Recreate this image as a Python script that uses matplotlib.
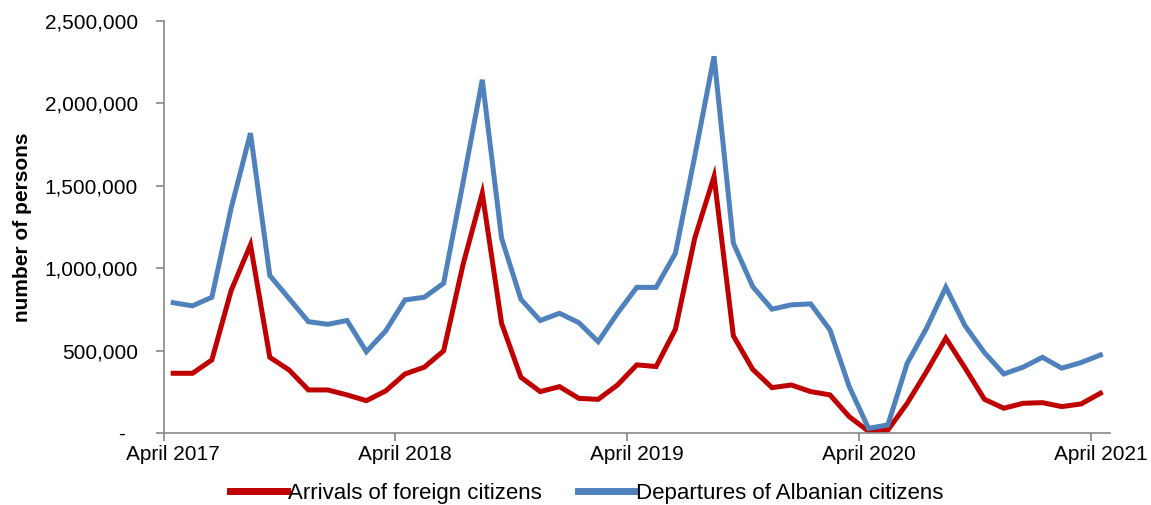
import numpy as np
import matplotlib
matplotlib.use("Agg")
from matplotlib import pyplot as plt
from matplotlib.ticker import FuncFormatter

# monthly values, April 2017 .. April 2021
arrivals = [362000, 362000, 443000, 864000, 1141000, 459000, 382000, 261000, 261000, 231000,
            196000, 255000, 358000, 399000, 498000, 1019000, 1454000, 665000, 338000, 251000,
            281000, 210000, 204000, 291000, 413000, 403000, 629000, 1181000, 1555000, 589000,
            386000, 275000, 291000, 251000, 231000, 99000, 10000, 18000, 180000, 372000,
            575000, 393000, 204000, 150000, 180000, 184000, 160000, 176000, 241000]
departures = [790000, 771000, 823000, 1363000, 1818000, 955000, 815000, 675000, 659000, 682000,
              493000, 619000, 807000, 823000, 908000, 1515000, 2142000, 1181000, 811000, 682000,
              726000, 669000, 554000, 726000, 883000, 883000, 1090000, 1677000, 2284000, 1151000,
              888000, 751000, 777000, 783000, 625000, 281000, 28000, 49000, 423000, 635000,
              884000, 649000, 487000, 358000, 399000, 459000, 393000, 427000, 473000]
tick_labels = ["April 2017", "April 2018", "April 2019", "April 2020", "April 2021"]

plt.rcParams['font.family'] = ['Liberation Sans', 'DejaVu Sans']

fig = plt.figure(figsize=(11.51, 5.05), dpi=100)
ax = fig.add_axes([0.1421, 0.1426, 0.8223, 0.8164])

n = len(arrivals)
x = np.arange(n) + 0.5
ax.plot(x, arrivals, color="#C00000", lw=3.6, solid_joinstyle="miter", label="Arrivals of foreign citizens")
ax.plot(x, departures, color="#4F81BD", lw=3.6, solid_joinstyle="miter", label="Departures of Albanian citizens")

ax.set_xlim(0, n)
ax.set_ylim(0, 2500000)
ax.set_yticks(np.arange(0, 2500001, 500000))
ax.yaxis.set_major_formatter(FuncFormatter(lambda v, p: "-  " if v == 0 else f"{int(v):,}"))

# labels centred on categories, tick marks on category boundaries
ax.set_xticks(np.arange(0, n, 12) + 0.5)
ax.set_xticklabels(tick_labels)
ax.set_xticks(np.arange(0, n, 12), minor=True)
ax.tick_params(axis="x", which="major", length=0, pad=9, labelsize=15)
ax.tick_params(axis="x", which="minor", length=6, color="#888888", width=1.2)
ax.tick_params(axis="y", length=6, color="#888888", width=1.2, pad=12.5, labelsize=15)

for s in ["top", "right"]:
    ax.spines[s].set_visible(False)
for s in ["left", "bottom"]:
    ax.spines[s].set_color("#888888")
    ax.spines[s].set_linewidth(1.2)

ax.set_ylabel("number of persons", fontsize=15, fontweight="bold")
ax.yaxis.set_label_coords(-0.139, 0.5)

leg = ax.legend(loc="center", bbox_to_anchor=(0.447, -0.146), ncol=2, frameon=False,
                fontsize=16, handlelength=2.55, handletextpad=0.08, columnspacing=1.6)
for h in leg.get_lines():
    h.set_linewidth(5)

fig.savefig("out.png", dpi=100)
